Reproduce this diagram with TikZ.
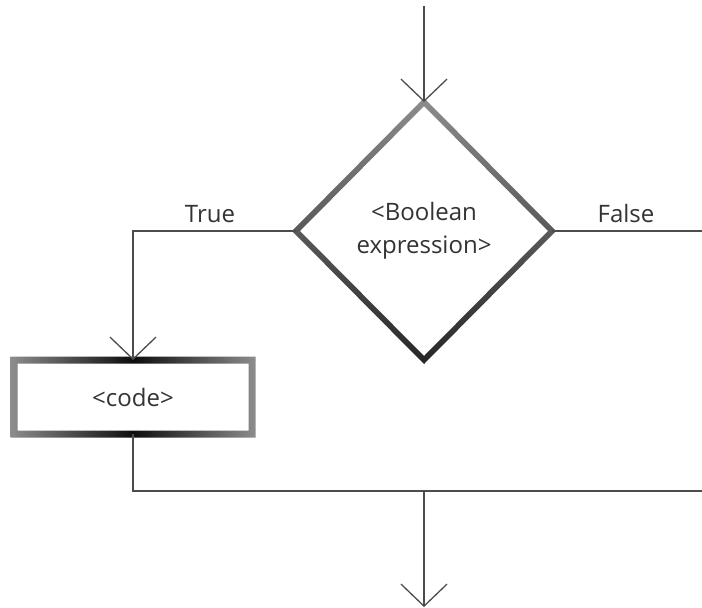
\documentclass[tikz,border=0pt]{standalone}
\usepackage{fontspec}
\setmainfont{Open Sans}
\usetikzlibrary{positioning,shapes.geometric,arrows.meta}

\tikzset{
  flowline/.style={draw=black!70, line width=1.4pt},
  flowarrow/.style={flowline, -{Straight Barb[length=22pt,width=46pt,line width=1.3pt]}},
  decision/.style={diamond, minimum width=256pt, minimum height=258pt,
    inner sep=0pt, outer sep=0pt, align=center, text=black!80,
    font=\fontsize{24}{33}\selectfont},
  process/.style={rectangle, minimum width=238pt, minimum height=74pt,
    inner sep=0pt, outer sep=0pt, text=black!80,
    font=\fontsize{24}{33}\selectfont},
  branchtext/.style={text=black!80, font=\fontsize{24}{33}\selectfont}
}

\begin{document}
\begin{tikzpicture}[x=1pt, y=-1pt]
    \useasboundingbox[fill=white] (0,0) rectangle (702,608);
    % define nodes
    \node[decision] (cond) at (424,231) {<Boolean\\expression>};
    \node[process] (code) at (133,397) {<code>};
    % define free ends and corners
    \coordinate (start) at (424,6);
    \coordinate (truecorner) at (133,231);
    \coordinate (falseend) at (702,231);
    \coordinate (mergeleft) at (133,491);
    \coordinate (mergeright) at (702,491);
    \coordinate (mergemid) at (424,491);
    \coordinate (finish) at (424,607);
    % shaded borders
    \shade[even odd rule, top color=black!45, bottom color=black!85]
        ([shift={(0,-4)}]cond.north) -- ([shift={(4,0)}]cond.east)
        -- ([shift={(0,4)}]cond.south) -- ([shift={(-4,0)}]cond.west) -- cycle
        ([shift={(0,4)}]cond.north) -- ([shift={(-4,0)}]cond.east)
        -- ([shift={(0,-4)}]cond.south) -- ([shift={(4,0)}]cond.west) -- cycle;
    \shade[even odd rule, left color=black!45, right color=black!45, middle color=black!95]
        ([shift={(-3.5,-3.5)}]code.north west) rectangle ([shift={(3.5,3.5)}]code.south east)
        ([shift={(3.5,3.5)}]code.north west) rectangle ([shift={(-3.5,-3.5)}]code.south east);
    % draw connectors
    \draw[flowarrow] (start) -- (cond.north);
    \draw[flowarrow] (cond.west) -- (truecorner) -- (code.north);
    \draw[flowline] (cond.east) -- (falseend);
    \draw[flowline] (code.south) -- (mergeleft) -- (mergeright);
    \draw[flowarrow] (mergemid) -- (finish);
    % add labels
    \node[branchtext, anchor=base] (truetext) at (210,222) {True};
    \node[branchtext, anchor=base] (falsetext) at (626,222) {False};
\end{tikzpicture}
\end{document}
